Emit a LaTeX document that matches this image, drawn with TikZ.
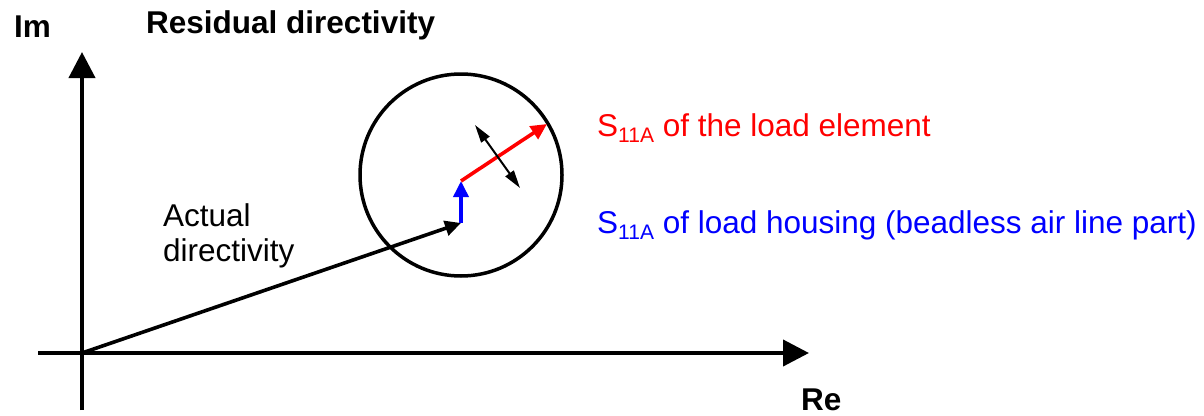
\documentclass[tikz,border=0pt]{standalone}
\usepackage{fontspec}
\setmainfont{Liberation Sans}
\usetikzlibrary{arrows.meta}
\tikzset{
  lbl/.style={inner sep=0pt, font=\fontsize{31.5}{35}\selectfont},
  blbl/.style={lbl, font=\fontsize{31.5}{35}\selectfont\bfseries},
  axis/.style={line width=4pt, -{Triangle[length=26pt,width=26pt]}},
  vec/.style={line width=3.6pt, -{Triangle[length=16pt,width=15pt]}},
  dbl/.style={line width=2pt, {Triangle[length=18pt,width=10pt]}-{Triangle[length=18pt,width=10pt]}},
}
\newcommand{\subsc}[1]{\raisebox{-6pt}{\fontsize{21}{21}\selectfont #1}}
\begin{document}
\begin{tikzpicture}[x=1pt,y=-1pt]
\useasboundingbox (0,0) rectangle (1204,415);
% coordinates
\coordinate (O) at (82,353);
\coordinate (xs) at (38,353);
\coordinate (xe) at (809,353);
\coordinate (ys) at (82,410);
\coordinate (ye) at (82,52);
\coordinate (A) at (461,223);
\coordinate (B) at (461,181);
\coordinate (C) at (547,124);
\coordinate (D1) at (475,125);
\coordinate (D2) at (520,188);
\coordinate (M) at (461,175);
% axes
\draw[axis] (xs) -- (xe);
\draw[axis] (ys) -- (ye);
% circle
\node[draw, circle, line width=3.5pt, minimum size=202pt, inner sep=0pt] (circ) at (M) {};
% vectors
\draw[vec, black] (O) -- (A);
\draw[vec, blue] (A) -- (B);
\draw[vec, red] (B) -- (C);
\draw[dbl] (D1) -- (D2);
% labels
\node[blbl, anchor=base west] (im) at (14,37) {Im};
\node[blbl, anchor=base west] (re) at (801,410) {Re};
\node[blbl, anchor=base west] (title) at (146,33) {Residual directivity};
\node[lbl, anchor=north west, align=left] (act) at (163,203) {Actual\\directivity};
\node[lbl, anchor=base west, text=red] (s11r) at (597,136) {S\subsc{11A} of the load element};
\node[lbl, anchor=base west, text=blue] (s11b) at (597,233) {S\subsc{11A} of load housing (beadless air line part)};
\end{tikzpicture}
\end{document}
